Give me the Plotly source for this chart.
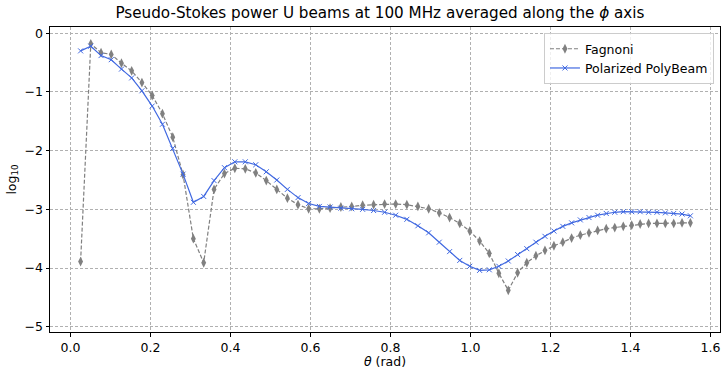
import plotly.graph_objects as go

# theta (rad) sample positions (ring colatitudes)
theta = [0.0255, 0.0510, 0.0766, 0.1021, 0.1277, 0.1532, 0.1788, 0.2045, 0.2301, 0.2559,
         0.2816, 0.3074, 0.3332, 0.3591, 0.3851, 0.4111, 0.4372, 0.4634, 0.4897, 0.5160,
         0.5425, 0.5690, 0.5956, 0.6224, 0.6492, 0.6762, 0.7033, 0.7306, 0.7580, 0.7855,
         0.8132, 0.8411, 0.8687, 0.8957, 0.9221, 0.9480, 0.9734, 0.9984, 1.0230, 1.0472,
         1.0711, 1.0947, 1.1180, 1.1410, 1.1638, 1.1864, 1.2088, 1.2310, 1.2530, 1.2748,
         1.2965, 1.3181, 1.3396, 1.3609, 1.3822, 1.4033, 1.4244, 1.4455, 1.4664, 1.4874,
         1.5083, 1.5291, 1.5500]

fagnoni = [-3.89, -0.18, -0.33, -0.36, -0.51, -0.64, -0.84, -1.06, -1.37, -1.77,
           -2.41, -3.50, -3.91, -2.66, -2.39, -2.30, -2.31, -2.38, -2.51, -2.66,
           -2.81, -2.92, -2.99, -2.99, -2.98, -2.96, -2.95, -2.93, -2.92, -2.91,
           -2.91, -2.92, -2.95, -2.99, -3.06, -3.14, -3.24, -3.37, -3.54, -3.75,
           -4.09, -4.38, -4.08, -3.91, -3.79, -3.70, -3.62, -3.56, -3.49, -3.44,
           -3.40, -3.36, -3.33, -3.31, -3.29, -3.27, -3.25, -3.24, -3.24, -3.24,
           -3.24, -3.23, -3.23]

polybeam = [-0.30, -0.22, -0.38, -0.45, -0.61, -0.76, -0.98, -1.24, -1.55, -1.96,
            -2.40, -2.88, -2.78, -2.51, -2.29, -2.19, -2.19, -2.24, -2.36, -2.50,
            -2.66, -2.80, -2.90, -2.95, -2.96, -2.98, -2.99, -3.00, -3.02, -3.05,
            -3.10, -3.17, -3.28, -3.40, -3.56, -3.72, -3.87, -3.97, -4.04, -4.03,
            -3.97, -3.88, -3.77, -3.67, -3.56, -3.46, -3.37, -3.29, -3.23, -3.18,
            -3.14, -3.10, -3.07, -3.05, -3.04, -3.04, -3.04, -3.05, -3.05, -3.06,
            -3.07, -3.08, -3.11]

x_ticks = [0.0, 0.2, 0.4, 0.6, 0.8, 1.0, 1.2, 1.4, 1.6]
y_ticks = [-5, -4, -3, -2, -1, 0]

FONT = "DejaVu Sans"
GRAY = "#808080"
BLUE = "#4169e1"

fig = go.Figure()
fig.add_trace(go.Scatter(
    x=theta, y=fagnoni, name="Fagnoni", mode="lines+markers",
    line=dict(color=GRAY, width=1.2, dash="4px,2px"),
    marker=dict(symbol="diamond-tall", size=7, color=GRAY),
))
fig.add_trace(go.Scatter(
    x=theta, y=polybeam, name="Polarized PolyBeam", mode="lines+markers",
    line=dict(color=BLUE, width=1.2),
    marker=dict(symbol="x-thin", size=5, color=BLUE, line=dict(color=BLUE, width=1)),
))

axis_common = dict(
    showline=True, mirror=True, linecolor="black", linewidth=1,
    ticks="outside", ticklen=3.5, tickwidth=0.8, tickcolor="black",
    showgrid=True, gridcolor="#b0b0b0", gridwidth=0.8, griddash="3px,2px",
    zeroline=False, tickfont=dict(family=FONT, size=12.5, color="black"),
)

fig.update_layout(
    width=721, height=369,
    margin=dict(l=50, r=1, t=27, b=37),
    paper_bgcolor="white", plot_bgcolor="white",
    font=dict(family=FONT, size=12.5, color="black"),
    title=dict(
        text="Pseudo-Stokes power U beams at 100 MHz averaged along the <i>ϕ</i> axis",
        x=0.4925, xref="paper", xanchor="center",
        y=1 - 13 / 369, yref="container", yanchor="middle",
        font=dict(family=FONT, size=15.2, color="black"),
    ),
    xaxis=dict(
        range=[-0.051, 1.624], tickvals=x_ticks, ticktext=[f"{v:.1f}" for v in x_ticks],
        title=dict(text="<i>θ</i> (rad)", font=dict(family=FONT, size=12.5), standoff=3),
        **axis_common,
    ),
    yaxis=dict(
        range=[-5.09, 0.107], tickvals=y_ticks,
        title=dict(text="log<sub>10</sub>", font=dict(family=FONT, size=12.5), standoff=5),
        **axis_common,
    ),
    legend=dict(
        x=0.991, y=0.98, xanchor="right", yanchor="top",
        bgcolor="rgba(255,255,255,0.8)", bordercolor="#cccccc", borderwidth=1,
        font=dict(family=FONT, size=12.5), itemwidth=30, tracegroupgap=0,
    ),
)

fig.write_html("out.html")
